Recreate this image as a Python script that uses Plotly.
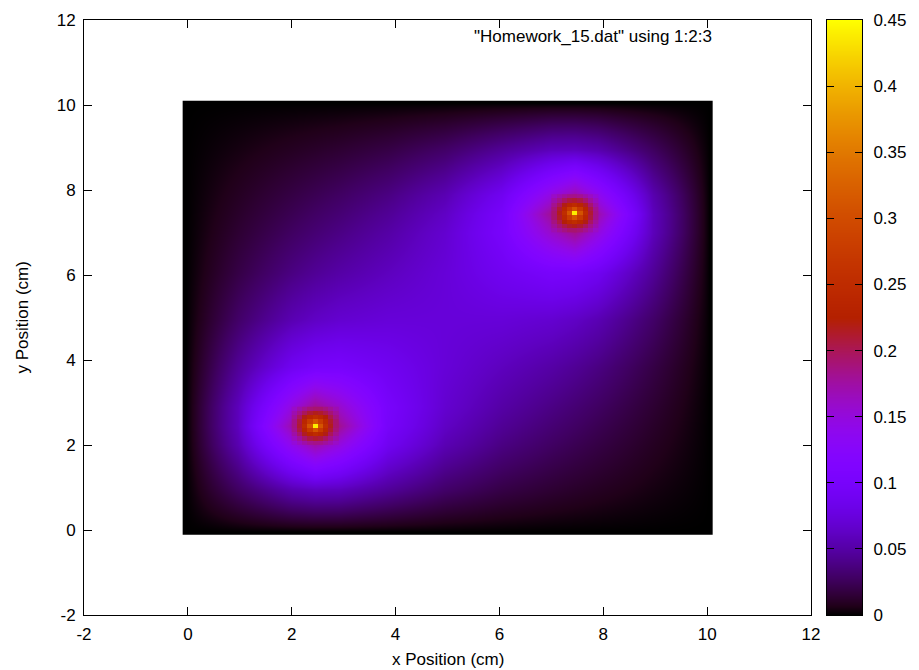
import math
import plotly.graph_objects as go

# ---------------- data (values read / estimated from the picture) ----------------
# coarse background grid (cm) – cell centres in x and y
GRID = [-0.05, 0.05, 0.95, 2.0, 2.45, 2.9, 3.85, 4.95, 6.05, 7.0, 7.45, 7.9, 8.95, 9.95, 10.05]

Z_BG = [
    [0, 0, 0, 0, 0, 0, 0, 0, 0, 0, 0, 0, 0, 0, 0],
    [0, 0.0003, 0.0027, 0.0051, 0.0056, 0.0056, 0.0045, 0.0031, 0.0021, 0.0014, 0.0012, 0.0010, 0.0005, 0.0000, 0],
    [0, 0.0027, 0.0278, 0.0545, 0.0599, 0.0591, 0.0456, 0.0300, 0.0200, 0.0143, 0.0119, 0.0097, 0.0047, 0.0005, 0],
    [0, 0.0051, 0.0545, 0.1396, 0.1725, 0.1481, 0.0887, 0.0559, 0.0384, 0.0282, 0.0238, 0.0196, 0.0097, 0.0010, 0],
    [0, 0.0056, 0.0599, 0.1725, 0.3000, 0.1824, 0.0989, 0.0634, 0.0449, 0.0337, 0.0288, 0.0238, 0.0119, 0.0012, 0],
    [0, 0.0056, 0.0591, 0.1481, 0.1824, 0.1590, 0.1009, 0.0685, 0.0506, 0.0390, 0.0337, 0.0282, 0.0143, 0.0014, 0],
    [0, 0.0045, 0.0455, 0.0886, 0.0988, 0.1008, 0.0888, 0.0726, 0.0605, 0.0506, 0.0449, 0.0384, 0.0200, 0.0021, 0],
    [0, 0.0031, 0.0300, 0.0559, 0.0634, 0.0685, 0.0728, 0.0732, 0.0728, 0.0685, 0.0634, 0.0559, 0.0300, 0.0031, 0],
    [0, 0.0021, 0.0200, 0.0384, 0.0449, 0.0506, 0.0605, 0.0726, 0.0888, 0.1008, 0.0988, 0.0886, 0.0455, 0.0045, 0],
    [0, 0.0014, 0.0143, 0.0282, 0.0337, 0.0390, 0.0506, 0.0685, 0.1009, 0.1590, 0.1824, 0.1481, 0.0591, 0.0056, 0],
    [0, 0.0012, 0.0119, 0.0238, 0.0288, 0.0337, 0.0449, 0.0634, 0.0989, 0.1824, 0.3000, 0.1725, 0.0599, 0.0056, 0],
    [0, 0.0010, 0.0097, 0.0196, 0.0238, 0.0282, 0.0384, 0.0559, 0.0887, 0.1481, 0.1725, 0.1396, 0.0545, 0.0051, 0],
    [0, 0.0005, 0.0047, 0.0097, 0.0119, 0.0143, 0.0200, 0.0300, 0.0456, 0.0591, 0.0599, 0.0545, 0.0278, 0.0027, 0],
    [0, 0.0000, 0.0005, 0.0010, 0.0012, 0.0014, 0.0021, 0.0031, 0.0045, 0.0056, 0.0056, 0.0051, 0.0027, 0.0003, 0],
    [0, 0, 0, 0, 0, 0, 0, 0, 0, 0, 0, 0, 0, 0, 0],
]

# fine 0.1 cm cells around the two peaks
PEAK1_AXIS = [2.05, 2.15, 2.25, 2.35, 2.45, 2.55, 2.65, 2.75, 2.85]
PEAK2_AXIS = [7.05, 7.15, 7.25, 7.35, 7.45, 7.55, 7.65, 7.75, 7.85]

Z_PEAK1 = [
    [0.152, 0.163, 0.173, 0.182, 0.185, 0.184, 0.178, 0.170, 0.161],
    [0.163, 0.177, 0.193, 0.205, 0.211, 0.207, 0.197, 0.184, 0.172],
    [0.173, 0.193, 0.215, 0.236, 0.249, 0.238, 0.219, 0.199, 0.182],
    [0.182, 0.205, 0.236, 0.273, 0.309, 0.275, 0.240, 0.211, 0.190],
    [0.185, 0.211, 0.249, 0.309, 0.440, 0.311, 0.253, 0.217, 0.193],
    [0.184, 0.207, 0.238, 0.275, 0.311, 0.277, 0.242, 0.213, 0.193],
    [0.178, 0.197, 0.219, 0.240, 0.253, 0.242, 0.223, 0.204, 0.187],
    [0.170, 0.184, 0.199, 0.211, 0.217, 0.213, 0.204, 0.191, 0.179],
    [0.161, 0.172, 0.182, 0.190, 0.193, 0.193, 0.187, 0.179, 0.170],
]

Z_PEAK2 = [
    [0.170, 0.179, 0.187, 0.193, 0.193, 0.190, 0.182, 0.172, 0.161],
    [0.179, 0.191, 0.204, 0.213, 0.217, 0.211, 0.199, 0.184, 0.170],
    [0.187, 0.204, 0.223, 0.242, 0.253, 0.240, 0.219, 0.197, 0.178],
    [0.193, 0.213, 0.242, 0.277, 0.311, 0.275, 0.238, 0.207, 0.184],
    [0.193, 0.217, 0.253, 0.311, 0.440, 0.309, 0.249, 0.211, 0.185],
    [0.190, 0.211, 0.240, 0.275, 0.309, 0.273, 0.236, 0.205, 0.182],
    [0.182, 0.199, 0.219, 0.238, 0.249, 0.236, 0.215, 0.193, 0.173],
    [0.172, 0.184, 0.197, 0.207, 0.211, 0.205, 0.193, 0.177, 0.163],
    [0.161, 0.170, 0.178, 0.184, 0.185, 0.182, 0.173, 0.163, 0.152],
]

AXIS_TICKS = [-2, 0, 2, 4, 6, 8, 10, 12]
AXIS_LABELS = ["-2", "0", "2", "4", "6", "8", "10", "12"]
CB_RANGE = [0, 0.45]
CB_TICKS = [0, 0.05, 0.1, 0.15, 0.2, 0.25, 0.3, 0.35, 0.4, 0.45]
CB_LABELS = ["0", "0.05", "0.1", "0.15", "0.2", "0.25", "0.3", "0.35", "0.4", "0.45"]
KEY_TEXT = '"Homework_15.dat" using 1:2:3'

# ---------------- gnuplot default palette (rgbformulae 7,5,15) ----------------
colorscale = []
N = 64
for k in range(N + 1):
    t = k / N
    r = round(255 * math.sqrt(t))
    g = round(255 * t ** 3)
    b = round(255 * max(0.0, math.sin(2 * math.pi * t)))
    colorscale.append([t, f"rgb({r},{g},{b})"])

ZMIN, ZMAX = CB_RANGE
FONT = "Liberation Sans, Arial, Helvetica, sans-serif"
TICKFONT = dict(family=FONT, size=17, color="black")

fig = go.Figure()
fig.add_trace(go.Heatmap(
    x=GRID, y=GRID, z=Z_BG, zsmooth="best",
    colorscale=colorscale, zmin=ZMIN, zmax=ZMAX,
    showscale=False, hoverinfo="skip",
))
for ax, zz in ((PEAK1_AXIS, Z_PEAK1), (PEAK2_AXIS, Z_PEAK2)):
    fig.add_trace(go.Heatmap(
        x=ax, y=ax, z=zz, zsmooth=False,
        colorscale=colorscale, zmin=ZMIN, zmax=ZMAX,
        showscale=False, hoverinfo="skip",
    ))

# colour box drawn on its own axes (gnuplot style: ticks on both sides)
fig.add_trace(go.Heatmap(
    x=[0, 1], y=CB_RANGE, z=[[CB_RANGE[0], CB_RANGE[0]], [CB_RANGE[1], CB_RANGE[1]]],
    zsmooth="best", colorscale=colorscale, zmin=ZMIN, zmax=ZMAX,
    showscale=False, hoverinfo="skip", xaxis="x2", yaxis="y2",
))

axis_common = dict(
    ticks="inside", ticklen=8, tickcolor="black", tickwidth=1,
    showline=True, linecolor="black", linewidth=1,
    showgrid=False, zeroline=False, tickfont=TICKFONT,
)

# plot area (figure px): 76 .. 901 wide (825 px)
MAIN_END = 727 / 825
CB_START = (819 - 76) / 825
CB_END = (854 - 76) / 825

fig.update_layout(
    xaxis=dict(**axis_common, domain=[0, MAIN_END], range=[-2, 12], tickmode="array",
               tickvals=AXIS_TICKS, ticktext=AXIS_LABELS, mirror="ticks",
               ticklabelstandoff=4),
    yaxis=dict(**axis_common, domain=[0, 1], range=[-2, 12], tickmode="array",
               tickvals=AXIS_TICKS, ticktext=AXIS_LABELS, mirror="ticks",
               ticklabelstandoff=4),
    xaxis2=dict(domain=[CB_START, CB_END], range=[0, 1], anchor="y2",
                showline=True, linecolor="black", linewidth=1, mirror=True,
                ticks="", showticklabels=False, showgrid=False, zeroline=False),
    yaxis2=dict(**{k: v for k, v in axis_common.items() if k != "ticklen"},
                ticklen=7, domain=[0, 1], range=CB_RANGE, anchor="x2", side="right",
                tickmode="array", tickvals=CB_TICKS, ticktext=CB_LABELS,
                mirror="ticks", ticklabelstandoff=7),
)

# the page adds an 8 px body margin, so the figure is 8 px smaller each way
fig.update_layout(
    width=911, height=662, autosize=False,
    margin=dict(l=76, r=10, t=12, b=55, autoexpand=False),
    paper_bgcolor="white", plot_bgcolor="white",
    font=dict(family=FONT, size=17, color="black"),
    showlegend=False,
    annotations=[
        dict(text=KEY_TEXT, xref="paper", yref="paper", x=(706 - 76) / 825, y=0.973,
             xanchor="right", yanchor="middle", showarrow=False, font=TICKFONT),
        dict(text="x Position (cm)", xref="paper", yref="paper", x=(439.5 - 76) / 825,
             y=-0.0756, xanchor="center", yanchor="middle", showarrow=False, font=TICKFONT),
        dict(text="y Position (cm)", xref="paper", yref="paper", x=(14 - 76) / 825, y=0.5,
             xanchor="center", yanchor="middle", textangle=-90, showarrow=False,
             font=TICKFONT),
    ],
)

fig.write_html("out.html")
